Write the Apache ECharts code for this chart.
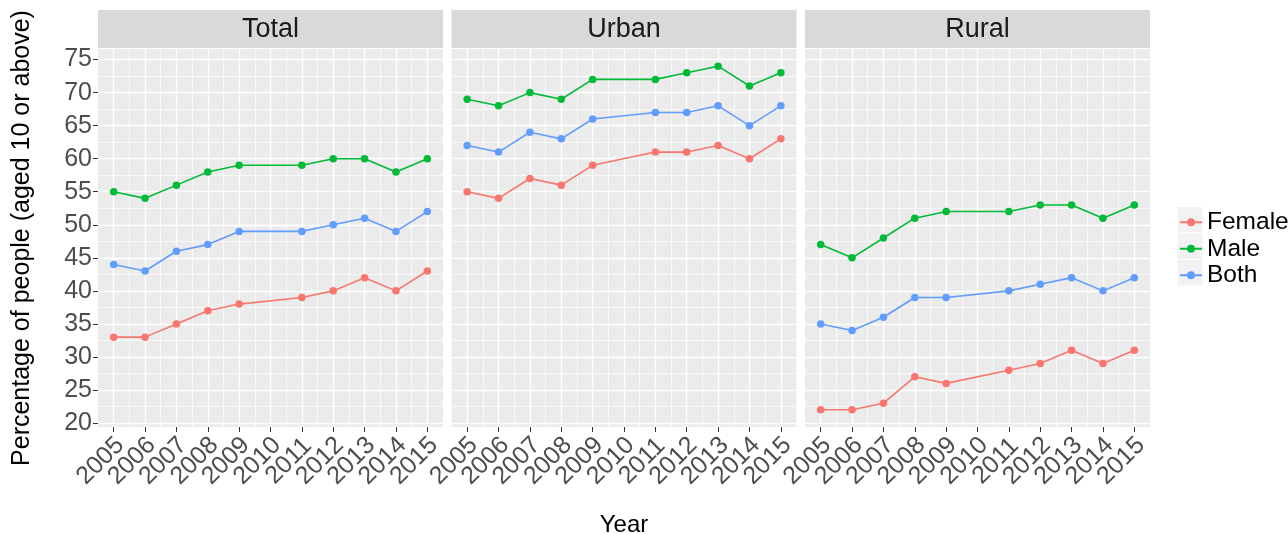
<!DOCTYPE html>
<html><head><meta charset="utf-8">
<script src="https://cdn.jsdelivr.net/npm/echarts@6/dist/echarts.min.js"></script>
<style>html,body{margin:0;padding:0;background:#fff}#c{width:1288px;height:534px}</style>
</head><body><div id="c"></div>
<script>
// ---- data ----
const panels = ['Total', 'Urban', 'Rural'];
const tickYears = ['2005', '2006', '2007', '2008', '2009', '2010', '2011', '2012', '2013', '2014', '2015'];
const dataYears = ['2005', '2006', '2007', '2008', '2009', '2011', '2012', '2013', '2014', '2015'];
const seriesNames = ['Female', 'Male', 'Both'];

const totalFemale = [33, 33, 35, 37, 38, 39, 40, 42, 40, 43];
const totalMale   = [55, 54, 56, 58, 59, 59, 60, 60, 58, 60];
const totalBoth   = [44, 43, 46, 47, 49, 49, 50, 51, 49, 52];

const urbanFemale = [55, 54, 57, 56, 59, 61, 61, 62, 60, 63];
const urbanMale   = [69, 68, 70, 69, 72, 72, 73, 74, 71, 73];
const urbanBoth   = [62, 61, 64, 63, 66, 67, 67, 68, 65, 68];

const ruralFemale = [22, 22, 23, 27, 26, 28, 29, 31, 29, 31];
const ruralMale   = [47, 45, 48, 51, 52, 52, 53, 53, 51, 53];
const ruralBoth   = [35, 34, 36, 39, 39, 40, 41, 42, 40, 42];

const yTicks = [20, 25, 30, 35, 40, 45, 50, 55, 60, 65, 70, 75];
const yMinor = [22.5, 27.5, 32.5, 37.5, 42.5, 47.5, 52.5, 57.5, 62.5, 67.5, 72.5];

const panelData = [
  [totalFemale, totalMale, totalBoth],
  [urbanFemale, urbanMale, urbanBoth],
  [ruralFemale, ruralMale, ruralBoth]
];

// ---- styles / layout ----
const colors = ['#F8766D', '#00BA38', '#619CFF'];
const FONT = 'Liberation Sans, Arial, sans-serif';
const panelLeft = [98, 451.5, 805];
const panelW = 345;
const panelTop = 49;
const panelH = 378;
const stripTop = 10;
const stripH = 38;
const legendLeft = 1179, legendTop = 209, legendPitch = 26.5, keyTop = 206.5;

const grids = [], xAxes = [], yAxes = [], series = [], graphics = [];

panels.forEach((p, i) => {
  grids.push({left: panelLeft[i], top: panelTop, width: panelW, height: panelH,
    show: true, backgroundColor: '#EBEBEB', borderWidth: 0, outerBoundsMode: 'none', containLabel: false});
  xAxes.push({type: 'category', gridIndex: i, data: tickYears, boundaryGap: true,
    splitLine: {show: true, interval: 0, showMinLine: false, showMaxLine: false,
      lineStyle: {color: '#FFFFFF', width: 0.7}},
    axisLine: {show: false},
    axisTick: {show: true, length: 5, interval: 0, alignWithLabel: true, lineStyle: {color: '#333', width: 1}},
    axisLabel: {interval: 0, rotate: 45, align: 'center', verticalAlign: 'middle', padding: [0, 37, 0, 0],
      fontSize: 25, fontFamily: FONT, color: '#4D4D4D', margin: 21, hideOverlap: false},
    name: i === 1 ? 'Year' : '', nameLocation: 'middle', nameGap: 86, nameMoveOverlap: false,
    nameTextStyle: {fontSize: 24, fontFamily: FONT, color: '#000'}
  });
  yAxes.push({type: 'value', gridIndex: i, min: 19.4, max: 76.6,
    splitLine: {show: false}, axisLine: {show: false},
    axisTick: {show: i === 0, length: 5, customValues: yTicks, lineStyle: {color: '#333', width: 1}},
    axisLabel: {show: i === 0, customValues: yTicks, fontSize: 25, fontFamily: FONT, color: '#4D4D4D', margin: 6},
    name: i === 0 ? 'Percentage of people (aged 10 or above)' : '', nameLocation: 'middle', nameGap: 63,
    nameMoveOverlap: false,
    nameTextStyle: {fontSize: 25, fontFamily: FONT, color: '#000'}
  });
  // gridlines (ggplot style: minor y + major x/y); minor x come from the category splitLine
  const gl = [];
  yMinor.forEach(v => gl.push({yAxis: v, lineStyle: {width: 0.7}}));
  yTicks.forEach(v => gl.push({yAxis: v, lineStyle: {width: 1.4}}));
  tickYears.forEach(v => gl.push({xAxis: v, lineStyle: {width: 1.4}}));
  series.push({type: 'line', xAxisIndex: i, yAxisIndex: i, data: [], silent: true, z: 1,
    markLine: {silent: true, z: 1, symbol: ['none', 'none'], label: {show: false}, animation: false,
      lineStyle: {color: '#FFFFFF', type: 'solid'}, emphasis: {disabled: true}, data: gl}});
  panelData[i].forEach((vals, s) => {
    series.push({type: 'line', name: seriesNames[s], xAxisIndex: i, yAxisIndex: i, z: 3,
      data: dataYears.map((y, k) => [y, vals[k]]),
      symbol: 'circle', symbolSize: 7.5, showSymbol: true,
      lineStyle: {width: 1.6, color: colors[s]}, itemStyle: {color: colors[s]},
      emphasis: {disabled: true}});
  });
  // facet strip
  graphics.push({type: 'rect', x: panelLeft[i], y: stripTop, shape: {width: panelW, height: stripH},
    style: {fill: '#D9D9D9'}, silent: true});
  graphics.push({type: 'text', x: panelLeft[i] + panelW / 2, y: stripTop + stripH / 2 + 1,
    style: {text: p, fontSize: 27, fontFamily: FONT, fill: '#1A1A1A', align: 'center', verticalAlign: 'middle'},
    silent: true});
});

// legend key backgrounds
seriesNames.forEach((n, k) => {
  graphics.push({type: 'rect', x: legendLeft - 2, y: keyTop + legendPitch * k, z: -1,
    shape: {width: 26, height: legendPitch}, style: {fill: '#F2F2F2', stroke: '#FFFFFF', lineWidth: 1}, silent: true});
});

const chart = echarts.init(document.getElementById('c'), null, {renderer: 'canvas'});
chart.setOption({
  animation: false,
  backgroundColor: '#FFFFFF',
  grid: grids, xAxis: xAxes, yAxis: yAxes, series: series,
  legend: {data: seriesNames, orient: 'vertical', left: legendLeft, top: legendTop, padding: 0,
    itemWidth: 22, itemHeight: 10, itemGap: 0,
    textStyle: {fontSize: 24.5, fontFamily: FONT, color: '#000', lineHeight: legendPitch, padding: [0, 0, 0, 0]},
    selectedMode: false},
  graphic: graphics
});
</script></body></html>
